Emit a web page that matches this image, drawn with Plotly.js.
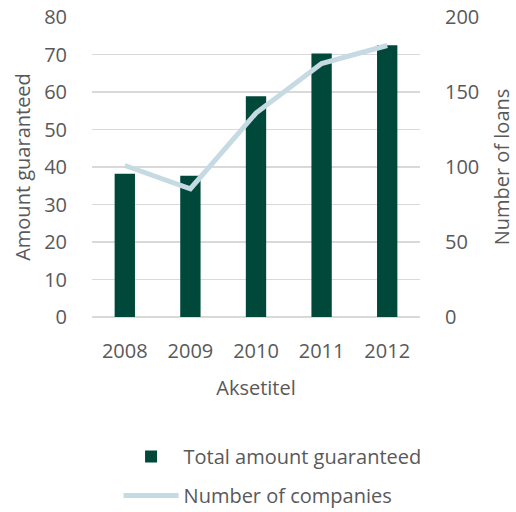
<!DOCTYPE html>
<html>
<head>
<meta charset="utf-8">
<script src="https://cdn.plot.ly/plotly-3.0.1.min.js"></script>
<style>html,body{margin:0;padding:0;background:#fff;}#chart{width:516px;height:512px;}</style>
</head>
<body>
<div id="chart"></div>
<script>
var years = ['2008', '2009', '2010', '2011', '2012'];
var amountGuaranteed = [38.2, 37.7, 58.9, 70.3, 72.5];
var numberOfCompanies = [101, 85.5, 136, 169, 181];
var leftTicks = [0, 10, 20, 30, 40, 50, 60, 70, 80];
var rightTicks = [0, 50, 100, 150, 200];

var textColor = '#595959';
var fontFamily = '"Open Sans", "Liberation Sans", sans-serif';

var traces = [
  {
    type: 'bar', x: years, y: amountGuaranteed, name: 'Total amount guaranteed',
    marker: {color: '#00493A'}, yaxis: 'y', legendgroup: 'a', hoverinfo: 'x+y'
  },
  {
    type: 'scatter', mode: 'lines', x: years, y: numberOfCompanies, name: 'Number of companies',
    line: {color: '#C6DAE3', width: 5}, yaxis: 'y2', legendgroup: 'b', hoverinfo: 'x+y'
  }
];

var layout = {
  width: 516, height: 512,
  margin: {l: 92, r: 96, t: 17, b: 195, autoexpand: false},
  paper_bgcolor: '#fff', plot_bgcolor: '#fff',
  font: {family: fontFamily, size: 20, color: textColor},
  bargap: 0.69,
  showlegend: true,
  xaxis: {
    type: 'category', showgrid: false, showline: false,
    ticks: 'outside', ticklen: 16, tickcolor: 'rgba(0,0,0,0)',
    tickfont: {size: 20, color: textColor},
    title: {text: 'Aksetitel', font: {size: 20, color: textColor}, standoff: 17}
  },
  yaxis: {
    range: [0, 80], tickvals: leftTicks, ticktext: leftTicks.map(String),
    showgrid: true, gridcolor: '#D9D9D9', gridwidth: 1.5,
    zeroline: true, zerolinecolor: '#D9D9D9', zerolinewidth: 1.5,
    showline: false, ticks: 'outside', ticklen: 20, tickcolor: 'rgba(0,0,0,0)',
    tickfont: {size: 20, color: textColor},
    title: {text: 'Amount guaranteed', font: {size: 20, color: textColor}, standoff: 8}
  },
  yaxis2: {
    range: [0, 200], tickvals: rightTicks, ticktext: rightTicks.map(String),
    overlaying: 'y', side: 'right', showgrid: false, zeroline: false,
    showline: false, ticks: 'outside', ticklen: 20, tickcolor: 'rgba(0,0,0,0)',
    tickfont: {size: 20, color: textColor},
    title: {text: 'Number of loans', font: {size: 20, color: textColor}, standoff: 16}
  },
  legend: {
    orientation: 'v',
    x: 0.081, xanchor: 'left', y: -0.40, yanchor: 'top',
    traceorder: 'grouped', tracegroupgap: 10, itemwidth: 55,
    font: {size: 20, color: textColor}, bgcolor: 'rgba(0,0,0,0)'
  }
};

Plotly.newPlot('chart', traces, layout, {displayModeBar: false, staticPlot: true});
</script>
</body>
</html>
